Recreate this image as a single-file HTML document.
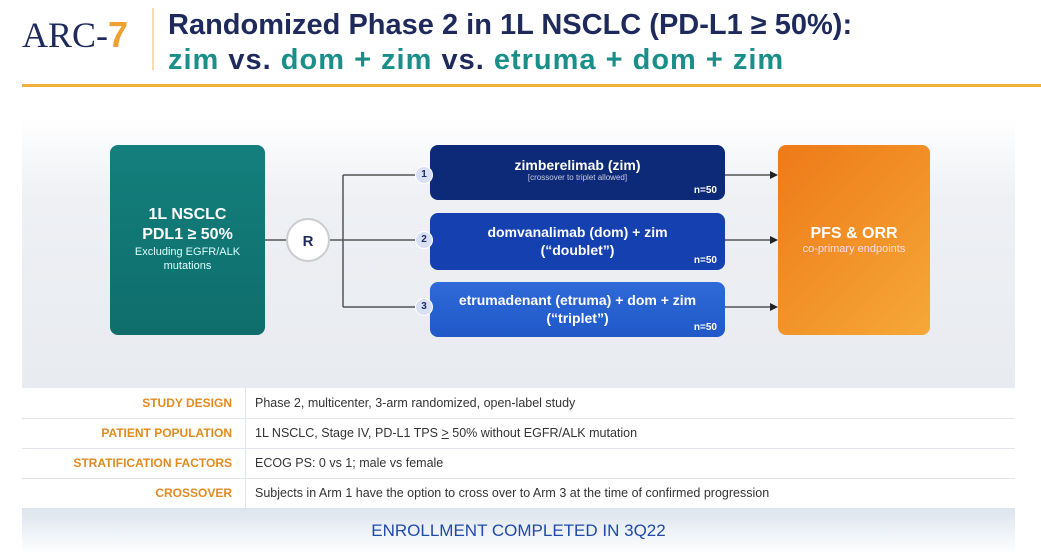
<!DOCTYPE html>
<html><head><meta charset="utf-8"><style>
body{margin:0;width:1041px;height:554px;background:#fff;position:relative;overflow:hidden;font-family:"Liberation Sans",sans-serif}
.a{position:absolute}
.t{font-weight:bold;font-size:29px;color:#1f2a5c;line-height:35px}
.arm{position:absolute;left:430px;width:295px;border-radius:8px;color:#fff;text-align:center;font-weight:bold;font-size:14px}
.n{position:absolute;right:8px;bottom:4px;font-size:10px;font-weight:bold}
.num{position:absolute;left:415px;width:16px;height:16px;border-radius:50%;background:#d7e0f5;color:#1f2a5c;font-size:10px;font-weight:bold;text-align:center;line-height:16px;border:1px solid #fff}
.row{position:absolute;left:22px;width:993px;height:30px;border-bottom:1px solid #e2e6ec;font-size:12.5px;line-height:30px}
.lb{position:absolute;right:783px;color:#e08a1e;font-weight:bold;font-size:12px}
.vl{position:absolute;left:233px;color:#333}
</style></head><body>
<div class="a" style="left:22px;top:14px;font-family:'Liberation Serif',serif;font-size:36px;color:#1f2a5c">ARC-<span style="color:#f0a030;font-family:'Liberation Sans';font-weight:bold">7</span></div>
<div class="a" style="left:152px;top:8px;width:2px;height:62px;background:#f5dcaa"></div>
<div class="a t" style="left:168px;top:8px">Randomized Phase 2 in 1L NSCLC (PD-L1 ≥ 50%):</div>
<div class="a t" style="left:168px;top:43px;color:#1a8f8a;letter-spacing:1px">zim <span style="color:#1f2a5c">vs.</span> dom + zim <span style="color:#1f2a5c">vs.</span> etruma + dom + zim</div>
<div class="a" style="left:22px;top:84px;width:1019px;height:3px;background:#f0b040"></div>
<div class="a" style="left:22px;top:118px;width:993px;height:270px;background:linear-gradient(#fff,#eef0f4 30%,#e8ebf0)"></div>
<div class="a" style="left:110px;top:145px;width:155px;height:190px;border-radius:8px;background:linear-gradient(#137f7c,#0f6e6c);color:#fff;text-align:center">
<div style="margin-top:60px;font-weight:bold;font-size:16px;line-height:20px">1L NSCLC<br>PDL1 ≥ 50%</div>
<div style="font-size:11px;line-height:14px;color:#dff">Excluding EGFR/ALK<br>mutations</div></div>
<svg class="a" style="left:0;top:0" width="1041" height="554">
<g stroke="#555" stroke-width="1.5" fill="none">
<line x1="265" y1="240" x2="290" y2="240"/><line x1="330" y1="240" x2="430" y2="240"/>
<line x1="343" y1="175" x2="343" y2="307"/><line x1="343" y1="175" x2="430" y2="175"/><line x1="343" y1="307" x2="430" y2="307"/>
<line x1="725" y1="175" x2="770" y2="175"/><line x1="725" y1="240" x2="770" y2="240"/><line x1="725" y1="307" x2="770" y2="307"/>
</g>
<g fill="#222"><path d="M770 171 L778 175 L770 179Z"/><path d="M770 236 L778 240 L770 244Z"/><path d="M770 303 L778 307 L770 311Z"/></g>
<circle cx="308" cy="240" r="21" fill="#fff" stroke="#ccc" stroke-width="2"/>
<text x="308" y="246" text-anchor="middle" font-family="Liberation Sans" font-weight="bold" font-size="15" fill="#1f2a5c">R</text>
</svg>
<div class="arm" style="top:145px;height:55px;background:#0d2a78"><div style="margin-top:12px">zimberelimab (zim)</div><div style="font-size:8px;font-weight:normal;color:#ccd">[crossover to triplet allowed]</div><span class="n">n=50</span></div>
<div class="arm" style="top:213px;height:57px;background:#1540b0"><div style="margin-top:10px;line-height:18px">domvanalimab (dom) + zim<br>(“doublet”)</div><span class="n">n=50</span></div>
<div class="arm" style="top:282px;height:55px;background:linear-gradient(#2f6ad8,#2058c8)"><div style="margin-top:9px;line-height:18px">etrumadenant (etruma) + dom + zim<br>(“triplet”)</div><span class="n">n=50</span></div>
<div class="num" style="top:166px">1</div><div class="num" style="top:231px">2</div><div class="num" style="top:298px">3</div>
<div class="a" style="left:778px;top:145px;width:152px;height:190px;border-radius:8px;background:linear-gradient(135deg,#ee7a18,#f5a838);color:#fff;text-align:center">
<div style="margin-top:80px;font-weight:bold;font-size:16px">PFS &amp; ORR</div><div style="font-size:11px;color:#fde">co-primary endpoints</div></div>
<div class="a" style="left:245px;top:388px;width:1px;height:120px;background:#e2e6ec"></div>
<div class="row" style="top:388px"><span class="lb">STUDY DESIGN</span><span class="vl">Phase 2, multicenter, 3-arm randomized, open-label study</span></div>
<div class="row" style="top:418px"><span class="lb">PATIENT POPULATION</span><span class="vl">1L NSCLC, Stage IV, PD-L1 TPS <u>&gt;</u> 50% without EGFR/ALK mutation</span></div>
<div class="row" style="top:448px"><span class="lb">STRATIFICATION FACTORS</span><span class="vl">ECOG PS: 0 vs 1; male vs female</span></div>
<div class="row" style="top:478px;border:none"><span class="lb">CROSSOVER</span><span class="vl">Subjects in Arm 1 have the option to cross over to Arm 3 at the time of confirmed progression</span></div>
<div class="a" style="left:22px;top:508px;width:993px;height:46px;background:linear-gradient(#dce4ee,#fff);text-align:center;color:#1f4aa8;font-size:17px;line-height:46px">ENROLLMENT COMPLETED IN 3Q22</div>
</body></html>
